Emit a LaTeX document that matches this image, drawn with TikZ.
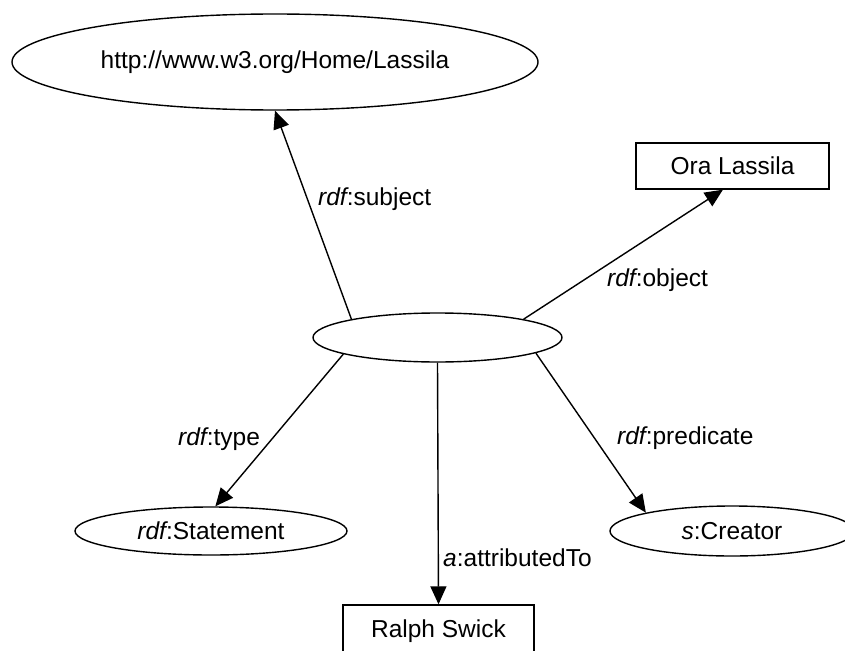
\documentclass[tikz,border=0pt]{standalone}
\usepackage{fontspec}
\setmainfont{Liberation Sans}
\usetikzlibrary{shapes.geometric,arrows.meta}
\newcommand{\itpart}[1]{{\itshape #1}}
\begin{document}
\begin{tikzpicture}[x=1pt,y=-1pt,
  every node/.style={font=\fontsize{24.5}{29}\selectfont},
  res/.style={draw, ellipse, line width=1.4pt, inner sep=0pt},
  lit/.style={draw, rectangle, line width=1.4pt, inner sep=0pt},
  edgearrow/.style={line width=1.4pt, -{Triangle[length=18pt,width=16pt]}},
  lbl/.style={anchor=base west, inner sep=0pt}]
\useasboundingbox (0,0) rectangle (845,650);
\clip (0,0) rectangle (845,650);
\fill[white] (0,0) rectangle (845,650);

\node[res, minimum width=526pt, minimum height=96pt] (subj) at (275,62) {http://www.w3.org/Home/Lassila};
\node[res, minimum width=249pt, minimum height=49pt] (stmt) at (437.5,337.5) {};
\node[lit, minimum width=193pt, minimum height=46pt] (ora) at (732.5,166) {Ora Lassila};
\node[res, minimum width=272pt, minimum height=48pt] (type) at (211,531) {\itpart{rdf}:Statement};
\node[res, minimum width=244pt, minimum height=50pt] (pred) at (732,531) {\itpart{s}:Creator};
\node[lit, minimum width=191pt, minimum height=52pt] (ralph) at (438.5,631) {Ralph Swick};

\draw[edgearrow] (stmt.168) -- (subj.south);
\draw[edgearrow] (stmt.12.6) -- (ora.-112);
\draw[edgearrow] (stmt.-170) -- (type.80);
\draw[edgearrow] (stmt.-9.8) -- (pred.168);
\draw[edgearrow] (stmt.south) -- (ralph.north);

\node[lbl] (lsubj) at (318,205) {\itpart{rdf}:subject};
\node[lbl] (lobj) at (607,286) {\itpart{rdf}:object};
\node[lbl] (ltype) at (178,445) {\itpart{rdf}:type};
\node[lbl] (lpred) at (617,444) {\itpart{rdf}:predicate};
\node[lbl] (lattr) at (443,566) {\itpart{a}:attributedTo};
\end{tikzpicture}
\end{document}
